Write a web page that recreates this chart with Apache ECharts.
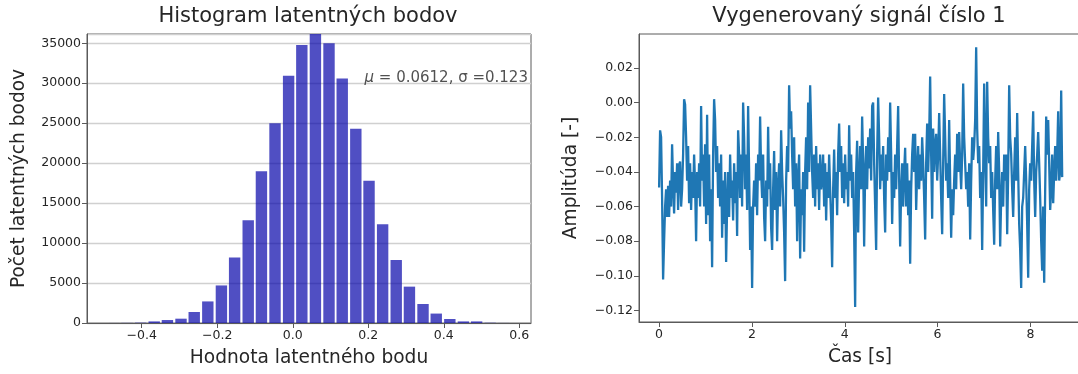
<!DOCTYPE html>
<html lang="sk">
<head>
    <meta charset="UTF-8">
    <style>
        html, body { margin: 0; padding: 0; background: #fff; }
        #chart { width: 1078px; height: 374px; }
    </style>
    <script src="https://cdn.jsdelivr.net/npm/echarts@6/dist/echarts.min.js"></script>
</head>
<body>
    <div id="chart"></div>
    <script>
        // histogram: stredy binov a pocty
        var binCenters = [-0.474, -0.439, -0.403, -0.367, -0.332, -0.296, -0.261, -0.225, -0.189, -0.154,
                          -0.118, -0.083, -0.047, -0.011, 0.024, 0.060, 0.096, 0.131, 0.167, 0.202,
                          0.238, 0.274, 0.309, 0.345, 0.380, 0.416, 0.452, 0.487, 0.523, 0.558];
        var binCounts = [4, 15, 40, 200, 370, 540, 1380, 2700, 4700, 8200,
                         12850, 19000, 25000, 30950, 34790, 36300, 35000, 30600, 24300, 17800,
                         12370, 7880, 4550, 2380, 1180, 500, 200, 200, 30, 6];
        var statText = ['μ', ' = 0.0612, σ =0.123'];
        var statPos = [0.19, 30000];

        // vygenerovany signal, cas s krokom dt
        var dt = 0.02155;
        var signalPart1 = [-0.049, -0.016, -0.020, -0.055, -0.102, -0.080, -0.060, -0.050, -0.066, -0.048,
            -0.066, -0.045, -0.060, -0.024, -0.047, -0.064, -0.040, -0.052, -0.035, -0.062,
            -0.036, -0.034, -0.060, -0.050, -0.030, 0.002, -0.001, -0.020, -0.045, -0.025,
            -0.058, -0.035, -0.062, -0.040, -0.055, -0.030, -0.048, -0.080, -0.040, -0.055,
            -0.035, -0.060, -0.002, -0.045, -0.030, -0.060, -0.024, -0.070, -0.007, -0.065,
            -0.030, -0.080, -0.050, -0.095, -0.030, 0.002, -0.010, -0.040, -0.025, -0.055,
            -0.035, -0.060, -0.030, -0.078, -0.045, -0.070, -0.040, -0.092, -0.060, -0.040,
            -0.066, -0.030, -0.055, -0.045, -0.068, -0.035, -0.058, -0.040, -0.077, -0.016, -0.030];
        var signalPart2 = [-0.055, -0.030, -0.060, 0.000, -0.020, -0.050, -0.030, -0.062, -0.002, -0.040,
            -0.085, -0.060, -0.107, -0.060, -0.045, -0.060, -0.035, -0.065, -0.030, -0.045,
            -0.008, -0.040, -0.055, -0.030, -0.066, -0.080, -0.045, -0.060, -0.014, -0.050,
            -0.035, -0.072, -0.085, -0.050, -0.028, -0.062, -0.040, -0.080, -0.050, -0.035,
            -0.060, -0.016, -0.040, -0.055, -0.075, -0.103, -0.045, -0.025, -0.040, 0.010,
            -0.015, -0.005, -0.030, -0.050, -0.020, -0.060, -0.035, -0.080, -0.045, -0.030,
            -0.090, -0.050, -0.065, -0.040, -0.086, -0.040, -0.020, -0.050, 0.000, -0.040,
            0.010, -0.015, -0.040, -0.055, -0.030, -0.060, -0.025, -0.050, -0.035, -0.062,
            -0.030, -0.050];
        var signalPart3 = [-0.045, -0.030, -0.060, -0.035, -0.068, -0.040, -0.055, -0.030, -0.050, -0.068,
            -0.095, -0.050, -0.027, -0.055, -0.040, -0.065, -0.030, -0.012, -0.040, -0.025,
            -0.055, -0.035, -0.058, -0.030, -0.050, -0.040, -0.060, -0.013, -0.045, -0.030,
            -0.055, -0.040, -0.075, -0.118, -0.040, -0.022, -0.075, -0.045, -0.025, -0.050,
            -0.008, -0.035, -0.083, -0.040, -0.025, -0.050, -0.020, -0.038, -0.015, -0.045,
            -0.002, 0.000, -0.035, -0.060, -0.085, -0.030, 0.003, -0.020, -0.050, -0.030,
            -0.045, -0.025, -0.055, -0.075, -0.030, -0.045, -0.020, -0.040, 0.000, -0.030,
            -0.070, -0.040, -0.055, -0.030, -0.050, -0.025, -0.002, -0.045, -0.083, -0.050,
            -0.035, -0.060];
        var signalPart4 = [-0.040, -0.026, -0.060, -0.035, -0.065, -0.045, -0.093, -0.050, -0.030, -0.018,
            -0.040, -0.018, -0.062, -0.040, -0.025, -0.050, -0.030, -0.045, -0.020, -0.035,
            -0.055, -0.079, -0.035, -0.012, -0.040, -0.020, 0.015, -0.030, -0.067, -0.015,
            -0.040, -0.025, -0.018, -0.045, -0.030, -0.006, -0.030, -0.055, -0.076, -0.035,
            0.005, -0.020, -0.045, -0.035, -0.055, -0.010, -0.045, -0.078, -0.050, -0.065,
            -0.045, -0.030, -0.050, -0.018, -0.040, -0.017, -0.035, -0.050, -0.030, 0.011,
            -0.020, -0.035, -0.050, -0.040, -0.060, -0.035, -0.079, -0.045, -0.020, -0.033,
            -0.025, -0.010, 0.032, -0.015, -0.035, -0.025, -0.055, -0.040, -0.085, -0.040,
            0.011, -0.030];
        var signalPart5 = [-0.060, 0.012, -0.020, -0.035, -0.025, -0.055, -0.040, -0.062, -0.082, -0.045,
            -0.025, -0.050, -0.017, -0.040, -0.083, -0.055, -0.040, -0.060, -0.030, -0.045,
            -0.030, -0.076, -0.040, 0.010, -0.020, -0.030, -0.050, -0.066, -0.040, -0.020,
            -0.045, -0.006, -0.040, -0.070, -0.085, -0.107, -0.060, -0.055, -0.040, -0.025,
            -0.045, -0.070, -0.101, -0.050, -0.035, -0.045, -0.025, -0.005, -0.045, -0.066,
            -0.040, -0.030, -0.017, -0.035, -0.055, -0.080, -0.097, -0.060, -0.104, -0.050,
            -0.008, -0.030, -0.010, -0.035, -0.062, -0.050, -0.030, -0.058, -0.040, -0.025,
            -0.045, -0.030, -0.005, -0.045, -0.040, 0.007, -0.043];
        var signal = signalPart1.concat(signalPart2, signalPart3, signalPart4, signalPart5);

        var font = 'DejaVu Sans';
        var textColor = '#262626';
        var spineColor = '#5a5a5a';

        function minus(s) { return String(s).replace('-', '\u2212'); }

        var chart = echarts.init(document.getElementById('chart'), null, { renderer: 'canvas' });

        var axisBase = {
            axisLine: { show: true, onZero: false, lineStyle: { color: spineColor, width: 1 } },
            axisTick: { show: true, inside: false, length: 5, lineStyle: { color: spineColor } },
            nameLocation: 'middle',
            nameTextStyle: { fontFamily: font, fontSize: 18.6, color: textColor }
        };

        var option = {
            animation: false,
            textStyle: { fontFamily: font },
            title: [
                { text: 'Histogram latentných bodov', left: 308, top: 6, textAlign: 'center', padding: 0,
                  textStyle: { fontFamily: font, fontSize: 21, fontWeight: 'normal', color: textColor } },
                { text: 'Vygenerovaný signál číslo 1', left: 859, top: 6, textAlign: 'center', padding: 0,
                  textStyle: { fontFamily: font, fontSize: 21, fontWeight: 'normal', color: textColor } }
            ],
            grid: [
                { left: 87, top: 34, right: 547, bottom: 51, show: true, borderColor: spineColor, borderWidth: 1,
                  backgroundColor: 'transparent', outerBoundsMode: 'none', containLabel: false },
                { left: 639, top: 34, right: -3, bottom: 52, show: true, borderColor: spineColor, borderWidth: 1,
                  backgroundColor: 'transparent', outerBoundsMode: 'none', containLabel: false }
            ],
            xAxis: [
                Object.assign({}, axisBase, {
                    type: 'value', gridIndex: 0, min: -0.545, max: 0.631, splitNumber: 6,
                    name: 'Hodnota latentného bodu', nameGap: 26,
                    splitLine: { show: false },
                    axisLabel: { showMinLabel: false, showMaxLabel: false, fontFamily: font, fontSize: 12.5,
                                 color: textColor, margin: 6, formatter: function (v) { return minus(v.toFixed(1)); } }
                }),
                Object.assign({}, axisBase, {
                    type: 'value', gridIndex: 1, min: -0.433, max: 9.09, splitNumber: 5,
                    name: 'Čas [s]', nameGap: 26,
                    splitLine: { show: false },
                    axisLabel: { showMinLabel: false, showMaxLabel: false, fontFamily: font, fontSize: 12.5,
                                 color: textColor, margin: 6, formatter: function (v) { return minus(Math.round(v)); } }
                })
            ],
            yAxis: [
                Object.assign({}, axisBase, {
                    type: 'value', gridIndex: 0, min: 0, max: 36160, splitNumber: 7,
                    name: 'Počet latentných bodov', nameGap: 58,
                    splitLine: { show: true, lineStyle: { color: '#d0d0d0', width: 1.3 } },
                    axisLabel: { showMaxLabel: false, fontFamily: font, fontSize: 12.5, color: textColor, margin: 6,
                                 formatter: function (v) { return String(Math.round(v)); } }
                }),
                Object.assign({}, axisBase, {
                    type: 'value', gridIndex: 1, min: -0.1266, max: 0.0396, splitNumber: 8,
                    name: 'Amplitúda [-]', nameGap: 58,
                    splitLine: { show: false },
                    axisLabel: { showMinLabel: false, showMaxLabel: false, fontFamily: font, fontSize: 12.5,
                                 color: textColor, margin: 6, formatter: function (v) { return minus(v.toFixed(2)); } }
                })
            ],
            series: [
                {
                    name: 'histogram',
                    type: 'bar',
                    xAxisIndex: 0,
                    yAxisIndex: 0,
                    barWidth: 11.4,
                    itemStyle: { color: 'rgba(5, 4, 170, 0.7)' },
                    data: binCenters.map(function (c, i) { return [c, binCounts[i]]; })
                },
                {
                    name: 'stat',
                    type: 'scatter',
                    xAxisIndex: 0,
                    yAxisIndex: 0,
                    symbolSize: 0,
                    silent: true,
                    data: [statPos],
                    label: {
                        show: true,
                        position: 'right',
                        distance: 0,
                        offset: [0, -5],
                        formatter: '{i|' + statText[0] + '}{n|' + statText[1] + '}',
                        rich: {
                            i: { fontFamily: font, fontStyle: 'italic', fontSize: 15, color: textColor },
                            n: { fontFamily: font, fontSize: 15, color: textColor }
                        }
                    }
                },
                {
                    name: 'signal',
                    type: 'line',
                    xAxisIndex: 1,
                    yAxisIndex: 1,
                    showSymbol: false,
                    symbol: 'none',
                    lineStyle: { color: '#1f77b4', width: 2.3 },
                    data: signal.map(function (v, i) { return [i * dt, v]; })
                }
            ]
        };

        chart.setOption(option);
    </script>
</body>
</html>
